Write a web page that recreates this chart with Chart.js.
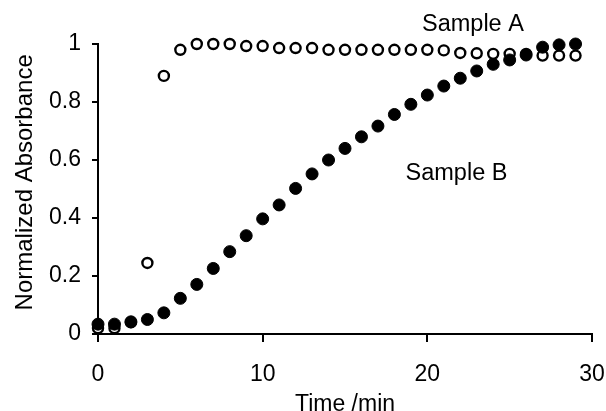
<!DOCTYPE html>
<html>
<head>
<meta charset="utf-8">
<script src="https://cdn.jsdelivr.net/npm/chart.js@4"></script>
<style>
  html, body { margin: 0; padding: 0; background: #fff; }
  #wrap { width: 606px; height: 411px; }
</style>
</head>
<body>
<div id="wrap"><canvas id="chart"></canvas></div>
<script>
// time in minutes, one reading per minute
const times = [0, 1, 2, 3, 4, 5, 6, 7, 8, 9, 10, 11, 12, 13, 14, 15, 16, 17, 18, 19,
  20, 21, 22, 23, 24, 25, 26, 27, 28, 29]

const sampleA = [0.02, 0.02, 0.04, 0.245, 0.89, 0.98, 1.0, 1.0, 1.0, 0.993, 0.993, 0.986, 0.986, 0.986, 0.98,
  0.98, 0.98, 0.98, 0.98, 0.98, 0.98, 0.978, 0.969, 0.968, 0.966, 0.966, 0.966, 0.96, 0.96, 0.96]

const sampleB = [0.034, 0.034, 0.042, 0.05, 0.073, 0.123, 0.171, 0.226, 0.284, 0.339, 0.397, 0.445, 0.502, 0.552, 0.6,
  0.64, 0.68, 0.717, 0.757, 0.792, 0.824, 0.855, 0.882, 0.907, 0.93, 0.945, 0.962, 0.989, 0.997, 1.0]

const labelNames = ['Sample A', 'Sample B']
const labelX = [22.77, 21.77]
const labelY = [1.066, 0.555]

const xTicks = [0, 10, 20, 30]
const yTicks = [0, 0.2, 0.4, 0.6, 0.8, 1]

const FONT = 'Liberation Sans, Arial, sans-serif'

const toPoints = ys => ys.map((y, i) => ({ x: times[i], y }))

const seriesLabels = {
  id: 'seriesLabels',
  afterDatasetsDraw(chart) {
    const { ctx, scales: { x, y } } = chart
    ctx.save()
    ctx.font = '23.5px ' + FONT
    ctx.fillStyle = '#000'
    ctx.textAlign = 'center'
    ctx.textBaseline = 'middle'
    labelNames.forEach((name, i) => {
      ctx.fillText(name, x.getPixelForValue(labelX[i]), y.getPixelForValue(labelY[i]))
    })
    ctx.restore()
  }
}

new Chart(document.getElementById('chart').getContext('2d'), {
  type: 'scatter',
  data: {
    datasets: [
      {
        label: 'Sample B',
        data: toPoints(sampleB),
        backgroundColor: '#000',
        borderColor: '#000',
        borderWidth: 1,
        pointRadius: 6,
        order: 1,
      },
      {
        label: 'Sample A',
        data: toPoints(sampleA),
        backgroundColor: '#fff',
        borderColor: '#000',
        borderWidth: 2.4,
        pointRadius: 5,
        order: 2,
      },
    ],
  },
  options: {
    responsive: true,
    maintainAspectRatio: false,
    animation: false,
    clip: false,
    layout: { padding: { left: 0, right: 14, top: 44, bottom: 0 } },
    plugins: {
      legend: { display: false },
      tooltip: { enabled: false },
    },
    scales: {
      x: {
        type: 'linear',
        min: 0,
        max: 30,
        afterBuildTicks: s => { s.ticks = xTicks.map(v => ({ value: v })) },
        afterFit: s => {
          s.height = 77
          // tick padding is only wanted below the axis, not at the ends
          s.paddingLeft = 0
          s.paddingRight = 13
        },
        border: { display: true, color: '#000', width: 2 },
        grid: { display: true, drawOnChartArea: false, drawTicks: true, tickLength: 8, color: '#000', lineWidth: 2 },
        ticks: { color: '#000', padding: 19, font: { family: FONT, size: 23 }, callback: v => String(v) },
        title: {
          display: true,
          text: 'Time /min',
          color: '#000',
          padding: { top: 0, bottom: -7 },
          font: { family: FONT, size: 23 },
        },
      },
      y: {
        type: 'linear',
        min: 0,
        max: 1,
        afterBuildTicks: s => { s.ticks = yTicks.map(v => ({ value: v })) },
        afterFit: s => { s.width = 98 },
        border: { display: true, color: '#000', width: 2 },
        grid: { display: true, drawOnChartArea: false, drawTicks: true, tickLength: 6, color: '#000', lineWidth: 2 },
        ticks: { color: '#000', padding: 11, font: { family: FONT, size: 23 }, callback: v => String(v) },
        title: {
          display: true,
          text: '\u00a0\u00a0Normalized Absorbance',
          color: '#000',
          padding: { top: 11, bottom: 0 },
          font: { family: FONT, size: 24 },
        },
      },
    },
  },
  plugins: [seriesLabels],
})
</script>
</body>
</html>
